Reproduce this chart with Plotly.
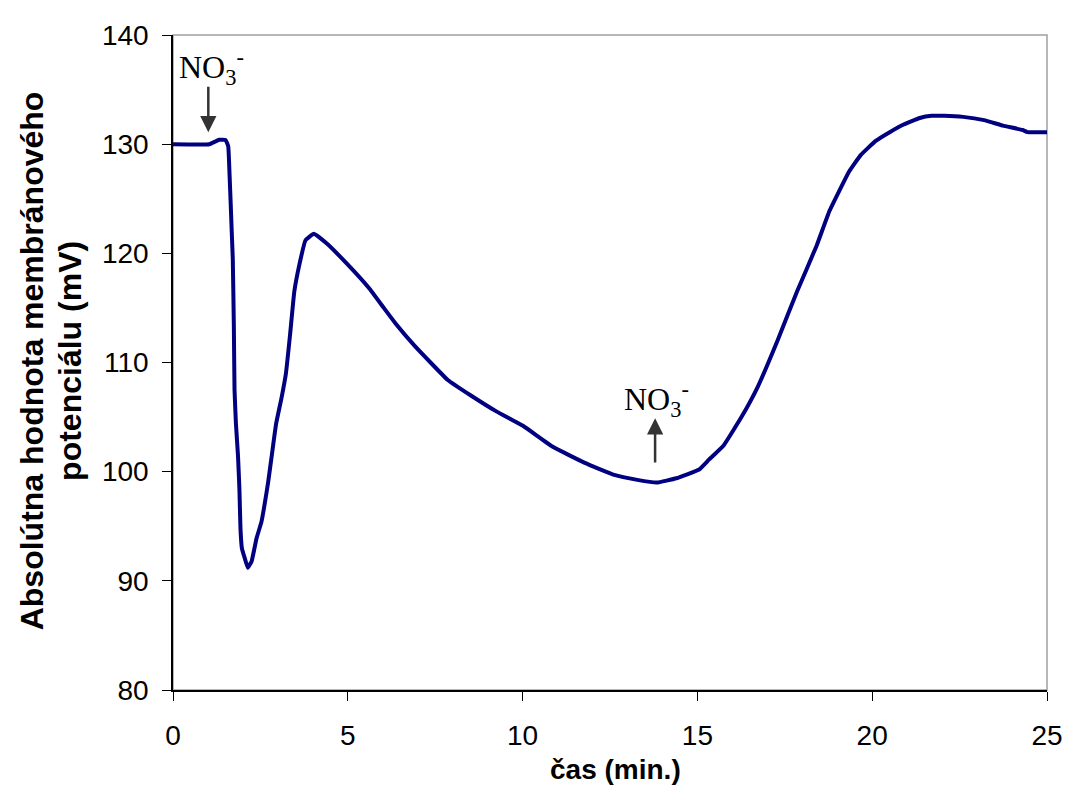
import plotly.graph_objects as go

# Data
time_min = [0, 1.04, 1.32, 1.5, 1.58, 1.62, 1.65, 1.68, 1.71, 1.74, 1.76, 1.80, 1.86, 1.90,
            1.93, 1.97, 2.05, 2.14, 2.25, 2.39, 2.53, 2.62, 2.72, 2.83, 2.95, 3.1, 3.23, 3.35,
            3.47, 3.61, 3.79, 4.03, 4.4, 4.96, 5.61, 6.03, 6.36, 6.92, 7.86, 8.51, 9.26,
            10.01, 10.85, 11.78, 12.62, 13.28, 13.84, 14.4, 15.05, 15.33, 15.75, 16.26,
            16.73, 17.29, 17.85, 18.41, 18.78, 19.34, 19.67, 20.1, 20.5, 20.9, 21.36, 21.7,
            22.06, 22.6, 23.2, 23.74, 24.3, 24.44, 25.0]
potential_mv = [130, 130, 130.4, 130.4, 129.8, 127, 124.6, 122, 119.5, 113.5, 107.5, 104.4,
                101.4, 98.4, 94.8, 93.0, 92.1, 91.2, 91.8, 93.9, 95.4, 97.0, 99.0, 101.6,
                104.4, 106.7, 109.0, 112.6, 116.5, 118.9, 121.2, 121.8, 120.9, 119.1, 116.8,
                115.0, 113.6, 111.5, 108.4, 107.0, 105.5, 104.2, 102.3, 100.8, 99.7, 99.25,
                99.0, 99.4, 100.2, 101.1, 102.4, 105.0, 107.8, 112.0, 116.5, 120.7, 123.9,
                127.5, 129.0, 130.3, 131.1, 131.8, 132.4, 132.6, 132.6, 132.5, 132.2, 131.7,
                131.3, 131.1, 131.1]

x_ticks = [0, 5, 10, 15, 20, 25]
y_ticks = [80, 90, 100, 110, 120, 130, 140]

# Annotation anchors (time, mV)
arrow1_tip = (1.01, 131.1)
arrow1_tail = (1.01, 135.4)
label1_pos = (1.09, 137.0)
arrow2_tip = (13.79, 104.9)
arrow2_tail = (13.79, 100.7)
label2_pos = (13.82, 106.6)

SANS = "Arial, Liberation Sans, sans-serif"
SERIF = "Times New Roman, Liberation Serif, serif"

fig = go.Figure()
fig.add_trace(go.Scatter(x=time_min, y=potential_mv, mode="lines",
                         line=dict(color="#000080", width=4, shape="spline", smoothing=0.3),
                         showlegend=False, hoverinfo="skip"))

axis_common = dict(showgrid=False, zeroline=False, showline=True, linecolor="black",
                   linewidth=1.5, ticks="outside", ticklen=9, tickwidth=1.2,
                   tickcolor="black", tickfont=dict(family=SANS, size=28, color="black"))

# page body has an 8px margin on every side; the figure is sized so the page fits the window
fig.update_layout(
    width=1067, height=787,
    margin=dict(l=165, r=17, t=19, b=105),
    paper_bgcolor="white", plot_bgcolor="white",
    xaxis=dict(range=[0, 25], tickvals=x_ticks, ticklabelstandoff=11, **axis_common),
    yaxis=dict(range=[80, 140], tickvals=y_ticks, ticklabelstandoff=8, **axis_common),
    shapes=[dict(type="rect", xref="paper", yref="paper", x0=0, y0=0, x1=1, y1=1,
                 line=dict(color="#a0a0a0", width=1.5), layer="below")],
)

# axis titles
fig.add_annotation(text="<b>čas (min.)</b>", xref="paper", yref="paper", x=0.506, y=-0.121,
                   xanchor="center", yanchor="middle", showarrow=False,
                   font=dict(family=SANS, size=28, color="black"))
for text, xpos in [("<b>Absolútna hodnota membránového</b>", -0.1616),
                   ("<b>potenciálu (mV)</b>", -0.1186)]:
    fig.add_annotation(text=text, xref="paper", yref="paper", x=xpos, y=0.503, textangle=-90,
                       xanchor="center", yanchor="middle", showarrow=False,
                       font=dict(family=SANS, size=32, color="black"))

# NO3- labels and arrows
for tip, tail, lab in [(arrow1_tip, arrow1_tail, label1_pos), (arrow2_tip, arrow2_tail, label2_pos)]:
    fig.add_annotation(x=tip[0], y=tip[1], ax=tail[0], ay=tail[1], xref="x", yref="y",
                       axref="x", ayref="y", text="", showarrow=True, arrowhead=2,
                       arrowsize=1.3, arrowwidth=2.5, arrowcolor="#333333")
    fig.add_annotation(x=lab[0], y=lab[1], xref="x", yref="y", text="NO<sub>3</sub><sup>-</sup>",
                       showarrow=False, xanchor="center", yanchor="middle",
                       font=dict(family=SERIF, size=32, color="black"))

fig.write_html("out.html")
